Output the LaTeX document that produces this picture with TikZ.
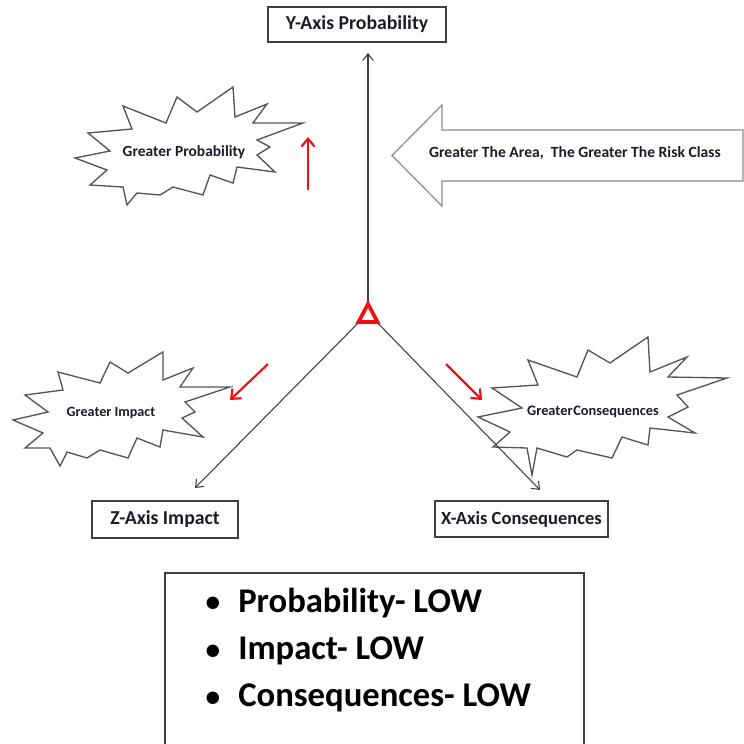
\documentclass[tikz,border=0pt]{standalone}
\usepackage{fontspec}
\setmainfont{Carlito}
\usetikzlibrary{arrows.meta}
\definecolor{axisgray}{HTML}{404040}
\definecolor{burstgray}{HTML}{555555}
\definecolor{bigarrow}{HTML}{8C8C8C}
\definecolor{txt}{HTML}{1C1C28}
\definecolor{redarrow}{HTML}{F01010}
\begin{document}
\begin{tikzpicture}[x=0.75pt,y=-0.75pt,
  axisbox/.style={draw=axisgray,line width=1.1pt,fill=white,text=txt,
    font=\fontsize{14.8}{16}\selectfont\bfseries,inner sep=0pt},
  burst/.style={draw=burstgray,line width=1pt,fill=white,line join=miter},
  bursttext/.style={text=txt,font=\fontsize{10.6}{12}\selectfont\bfseries,inner sep=0pt},
  axisline/.style={draw=axisgray,line width=0.8pt,-{Straight Barb[length=5pt,width=8pt]}},
  redline/.style={draw=redarrow,line width=1.6pt,-{Straight Barb[length=6pt,width=10pt]}},
  bullettext/.style={text=black,font=\fontsize{26}{30}\selectfont\bfseries,anchor=west,inner sep=0pt},
  bulletdot/.style={text=black,font=\fontsize{22}{26}\selectfont\bfseries,inner sep=0pt}
]
\useasboundingbox[fill=white] (0,0) rectangle (744,744);

% axis boxes
\node[axisbox,minimum width=133.5pt,minimum height=26.25pt] (ybox) at (357,24.5) {Y-Axis Probability};
\node[axisbox,minimum width=109.5pt,minimum height=27.75pt] (zbox) at (165,519.5) {Z-Axis Impact};
\node[axisbox,minimum width=129.75pt,minimum height=27pt,font=\fontsize{13.9}{16}\selectfont\bfseries] (xbox) at (521.5,519) {X-Axis Consequences};

% starbursts
\draw[burst] (75,158)--(110,151)--(88,133)--(132,129)--(123,106)--(166,123)--(177,97)--(197,112)--(233,87)--(235,117)--(267,104)--(253,123)--(303,123)--(257,140)--(270,147)--(257,155)--(275,172)--(237,167)--(233,183)--(210,175)--(203,195)--(173,187)--(160,195)--(137,193)--(127,205)--(123,187)--(90,185)--(107,170)--cycle;
\node[bursttext,font=\fontsize{11.6}{13}\selectfont\bfseries] (gp) at (184,152) {Greater Probability};

\draw[burst] (13,420)--(48,412)--(25,395)--(63,390)--(58,372)--(100,383)--(110,362)--(128,373)--(163,352)--(163,380)--(193,368)--(180,387)--(230,387)--(185,402)--(195,412)--(182,418)--(203,437)--(163,430)--(160,447)--(137,438)--(128,458)--(100,450)--(87,458)--(67,452)--(60,466)--(50,448)--(25,448)--(43,433)--cycle;
\node[bursttext] (gi) at (111,413) {Greater Impact};

\draw[burst] (478,417)--(522,408)--(492,388)--(538,385)--(528,360)--(577,377)--(588,350)--(610,363)--(648,337)--(650,372)--(687,357)--(668,377)--(727,378)--(677,395)--(688,407)--(668,417)--(695,433)--(650,428)--(648,445)--(622,437)--(612,458)--(577,450)--(567,457)--(537,448)--(532,475)--(527,448)--(493,447)--(510,432)--cycle;
\node[bursttext,font=\fontsize{10.8}{12}\selectfont\bfseries] (gc) at (593,412) {Greater\hspace{0.5pt}Consequences};

% big left arrow
\draw[draw=bigarrow,line width=0.9pt,fill=white,line join=miter] (743,130)--(442,130)--(442,105)--(392,155.5)--(442,206)--(442,181)--(743,181)--cycle;
\node[bursttext,font=\fontsize{11.7}{13}\selectfont\bfseries] (area) at (575,153) {Greater The Area,\ \ The Greater The Risk Class};

% axes
\coordinate (c) at (368,313);
\coordinate (ytip) at (368,53);
\coordinate (ztip) at (195,488);
\coordinate (xtip) at (540,490);
\draw[axisline] (c) -- (ytip);
\draw[axisline] (c) -- (ztip);
\draw[axisline] (c) -- (xtip);

% red center triangle
\draw[draw=redarrow,line width=2.8pt,line join=miter,fill=white] (368,304)--(377.5,322)--(358.5,322)--cycle;

% red arrows
\coordinate (r1s) at (308,190);
\coordinate (r1e) at (308,137);
\coordinate (r2s) at (268,364);
\coordinate (r2e) at (230,400);
\coordinate (r3s) at (446,364);
\coordinate (r3e) at (482,400);
\draw[redline] (r1s) -- (r1e);
\draw[redline] (r2s) -- (r2e);
\draw[redline] (r3s) -- (r3e);

% bottom box
\draw[draw=axisgray,line width=1.1pt] (165,745) -- (165,573) -- (584,573) -- (584,745);
\node[bulletdot] (b1) at (213,604) {\textbullet};
\node[bulletdot] (b2) at (213,652) {\textbullet};
\node[bulletdot] (b3) at (213,699) {\textbullet};
\node[bullettext] (t1) at (238,603) {Probability- LOW};
\node[bullettext] (t2) at (238,651) {Impact- LOW};
\node[bullettext] (t3) at (238,698) {Consequences- LOW};
\end{tikzpicture}
\end{document}
